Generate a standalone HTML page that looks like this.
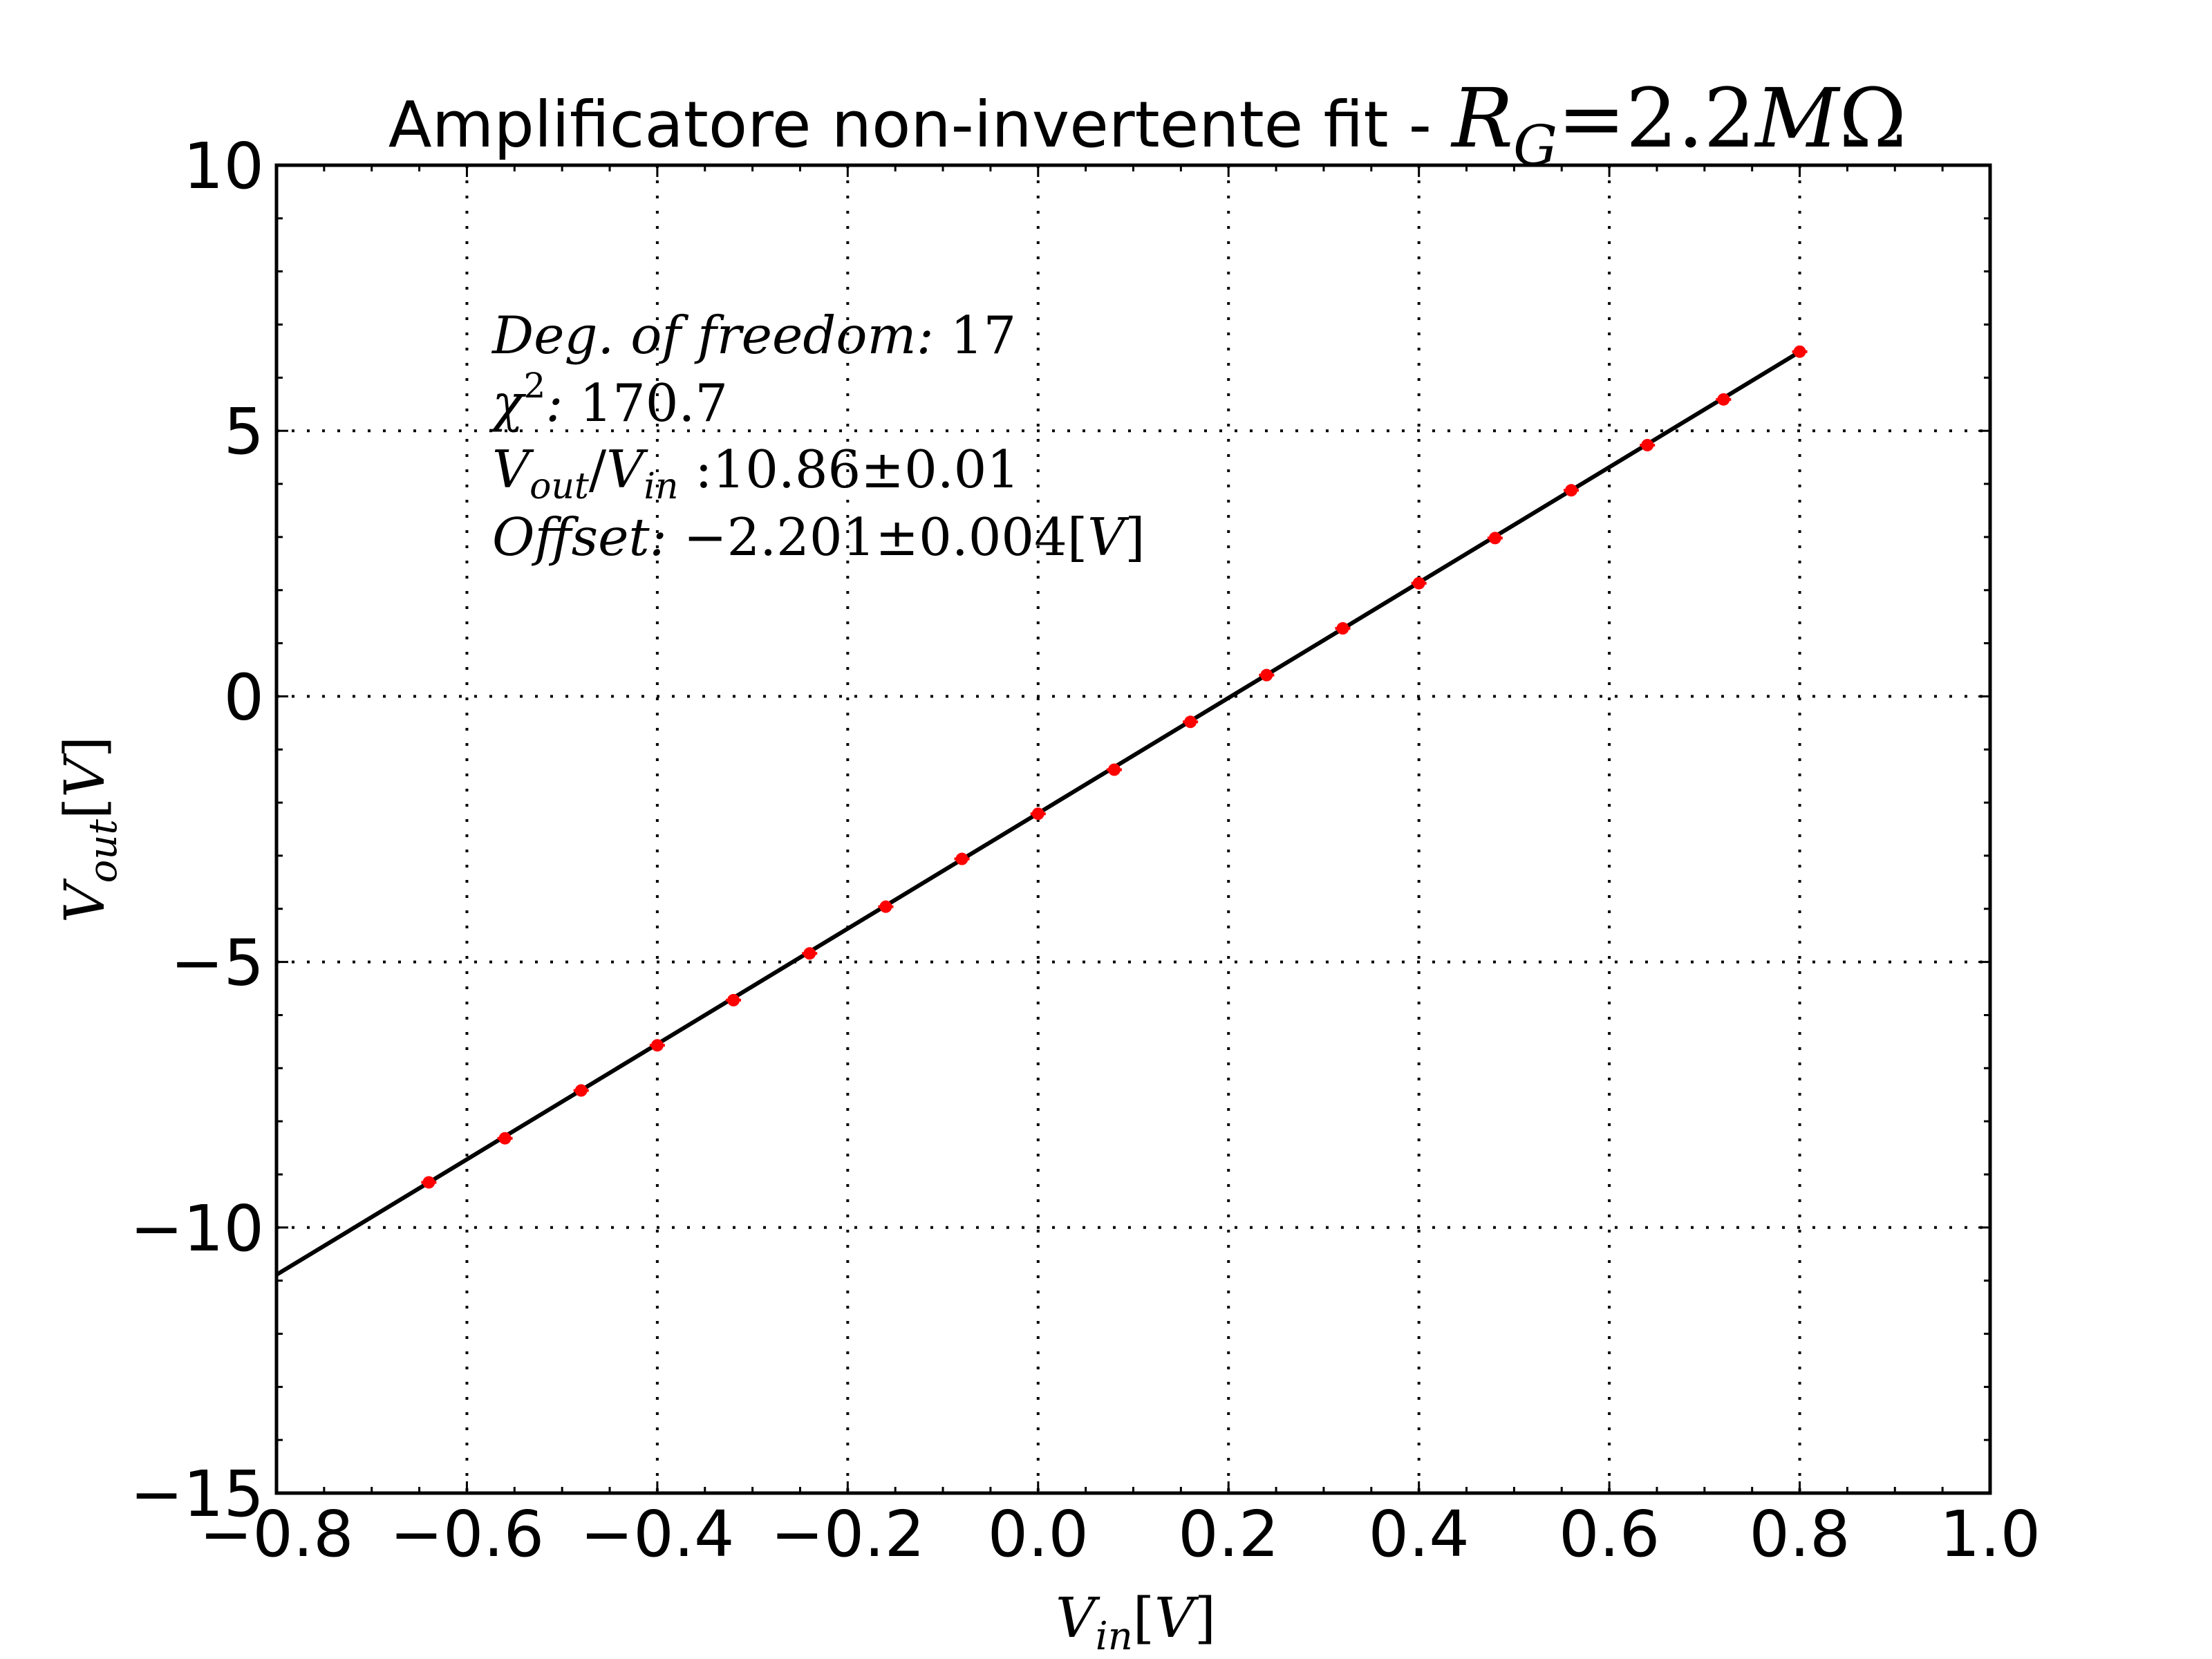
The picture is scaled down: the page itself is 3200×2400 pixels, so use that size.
<!DOCTYPE html>
<html><head><meta charset="utf-8"><style>
html,body{margin:0;padding:0;background:#fff;}
svg{display:block;}
.tk{font-family:"DejaVu Sans","Liberation Sans",sans-serif;font-size:92px;fill:#000;}
.mt{font-family:"DejaVu Serif","Liberation Serif",serif;fill:#000;}
</style></head><body>
<svg id="chart" width="3200" height="2400" viewBox="0 0 3200 2400" xmlns="http://www.w3.org/2000/svg">
<rect width="3200" height="2400" fill="#fff"/>
<g id="grid"></g>
<g id="fit"></g>
<g id="pts"></g>
<g id="axes"></g>
<text x="1660" y="212" text-anchor="middle"><tspan class="tk" font-size="122">Amplificatore non-invertente fit - </tspan><tspan class="mt" font-size="118" font-style="italic">R</tspan><tspan class="mt" font-size="80" font-style="italic" dy="26">G</tspan><tspan class="mt" font-size="118" dy="-26">=2.2</tspan><tspan class="mt" font-size="118" font-style="italic">M</tspan><tspan class="mt" font-size="118">Ω</tspan></text>
<g>
<text class="mt" x="712" y="511" font-size="75"><tspan font-style="italic">Deg. of freedom: </tspan>17</text>
<text class="mt" x="712" y="609" font-size="75"><tspan font-style="italic">χ</tspan><tspan font-size="50" dy="-34">2</tspan><tspan dy="34" font-style="italic">: </tspan>170.7</text>
<text class="mt" x="712" y="705" font-size="75"><tspan font-style="italic">V</tspan><tspan font-size="52" font-style="italic" dy="16">out</tspan><tspan dy="-16">/</tspan><tspan font-style="italic">V</tspan><tspan font-size="52" font-style="italic" dy="16">in</tspan><tspan dy="-16"> :10.86±0.01</tspan></text>
<text class="mt" x="712" y="803" font-size="75"><tspan font-style="italic">Offset: </tspan>−2.201±0.004[<tspan font-style="italic">V</tspan>]</text>
</g>
<text class="mt" x="1643" y="2368" font-size="80" text-anchor="middle"><tspan font-style="italic">V</tspan><tspan font-style="italic" font-size="56" dy="18">in</tspan><tspan dy="-18">[</tspan><tspan font-style="italic">V</tspan>]</text>
<text class="mt" x="0" y="0" font-size="80" text-anchor="middle" transform="translate(150,1200) rotate(-90)"><tspan font-style="italic">V</tspan><tspan font-style="italic" font-size="56" dy="18">out</tspan><tspan dy="-18">[</tspan><tspan font-style="italic">V</tspan>]</text>
</svg>
<script>
const xValues=[-0.64,-0.56,-0.48,-0.40,-0.32,-0.24,-0.16,-0.08,0.00,0.08,0.16,0.24,0.32,0.40,0.48,0.56,0.64,0.72,0.80];
const yValues=[-9.15,-8.32,-7.42,-6.57,-5.72,-4.84,-3.96,-3.06,-2.21,-1.38,-0.48,0.40,1.28,2.13,2.98,3.88,4.73,5.59,6.49];
const fitSlope=10.86;
const fitOffset=-2.201;
const xTicks=[-0.8,-0.6,-0.4,-0.2,0.0,0.2,0.4,0.6,0.8,1.0];
const xTickLabels=["−0.8","−0.6","−0.4","−0.2","0.0","0.2","0.4","0.6","0.8","1.0"];
const yTicks=[10,5,0,-5,-10,-15];
const yTickLabels=["10","5","0","−5","−10","−15"];
const xErr=0.008;

const NS="http://www.w3.org/2000/svg";
const L=400,R=2879,T=239,B=2160;
const xMin=-0.8,xMax=1.0,yMin=-15,yMax=10;
function sx(v){return L+(v-xMin)/(xMax-xMin)*(R-L);}
function sy(v){return B-(v-yMin)/(yMax-yMin)*(B-T);}
function mk(tag,attrs,parent){const e=document.createElementNS(NS,tag);for(const k in attrs)e.setAttribute(k,attrs[k]);parent.appendChild(e);return e;}
const grid=document.getElementById('grid'),axes=document.getElementById('axes'),fit=document.getElementById('fit'),pts=document.getElementById('pts');

xTicks.forEach((t,i)=>{
  const x=sx(t);
  if(i>0&&i<xTicks.length-1){const g=mk('line',{x1:x,x2:x,y1:T,y2:B,stroke:'#000','stroke-width':4,'stroke-dasharray':'4 18'},grid);
  
  }
  const tk=mk('path',{d:`M${x},${B}v-17M${x},${T}v17`,stroke:'#000','stroke-width':3},axes);
  
  
  const lb=mk('text',{x:x,y:2251,'text-anchor':'middle',class:'tk'},axes);
  lb.textContent=xTickLabels[i];
  
  
});
for(let v=xMin;v<xMax-1e-9;v+=0.2){for(let k=1;k<4;k++){const x=sx(v+k*0.05);
  const m=mk('path',{d:`M${x},${B}v-9M${x},${T}v9`,stroke:'#000','stroke-width':3},axes);
  
  }}
yTicks.forEach((t,i)=>{
  const y=sy(t);
  if(t!==yMax&&t!==yMin){const g=mk('line',{x1:L,x2:R,y1:y,y2:y,stroke:'#000','stroke-width':4,'stroke-dasharray':'4 18'},grid);
  
  }
  const tk=mk('path',{d:`M${L},${y}h17M${R},${y}h-17`,stroke:'#000','stroke-width':3},axes);
  
  
  const lb=mk('text',{x:382,y:y+33,'text-anchor':'end',class:'tk'},axes);
  lb.textContent=yTickLabels[i];
  
  
});
for(let v=yMin;v<yMax;v+=5){for(let k=1;k<5;k++){const y=sy(v+k);
  const m=mk('path',{d:`M${L},${y}h9M${R},${y}h-9`,stroke:'#000','stroke-width':3},axes);
  
  }}
const frame=mk('rect',{x:L,y:T,width:R-L,height:B-T,fill:'none',stroke:'#000','stroke-width':5},axes);



const fx0=xMin,fx1=xValues[xValues.length-1];
const fl=mk('line',{x1:sx(fx0),y1:sy(fitSlope*fx0+fitOffset),x2:sx(fx1),y2:sy(fitSlope*fx1+fitOffset),stroke:'#000','stroke-width':6},fit);



xValues.forEach((xv,i)=>{
  const cx=sx(xv),cy=sy(yValues[i]);
  const eb=mk('line',{x1:sx(xv-xErr),x2:sx(xv+xErr),y1:cy,y2:cy,stroke:'#f00','stroke-width':4},pts);
  
  
  const c=mk('circle',{cx:cx,cy:cy,r:9,fill:'#f00'},pts);
  
  
});
</script>
</body></html>
